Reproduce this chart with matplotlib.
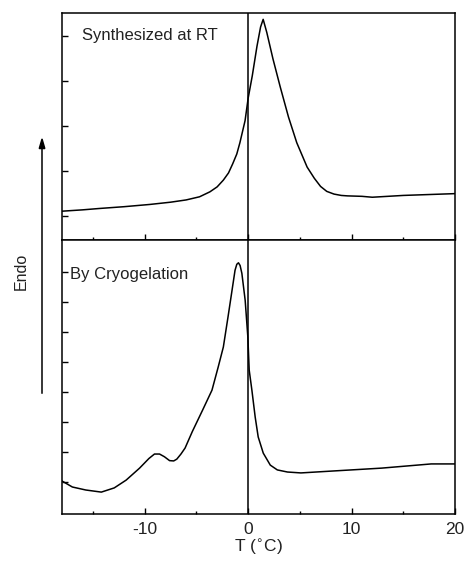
import matplotlib.pyplot as plt
from matplotlib.ticker import MultipleLocator

plt.rcParams['font.family'] = ['Liberation Sans', 'DejaVu Sans']
plt.rcParams['axes.unicode_minus'] = False

# top panel: sample synthesized at room temperature
t_rt = [-18.0, -16.0, -14.4, -12.0, -9.5, -7.5, -6.0, -4.7, -3.7, -3.0, -2.4,
        -1.9, -1.5, -1.1, -0.8, -0.3, 0.0, 0.4, 0.85, 1.2, 1.45, 1.8, 2.4,
        3.1, 3.9, 4.7, 5.7, 6.4, 7.0, 7.6, 8.3, 9.0, 9.6, 11.0, 12.0, 13.5,
        15.0, 17.5, 20.0]
dsc_rt = [0.11, 0.14, 0.17, 0.21, 0.26, 0.31, 0.36, 0.43, 0.54, 0.65, 0.80,
          0.96, 1.16, 1.38, 1.63, 2.12, 2.62, 3.12, 3.77, 4.20, 4.37, 4.08, 3.49,
          2.87, 2.20, 1.63, 1.09, 0.84, 0.66, 0.55, 0.49, 0.46, 0.45, 0.44, 0.42, 0.44,
          0.46, 0.48, 0.50]

# bottom panel: sample made by cryogelation
t_cryo = [-18.0, -17.0, -15.7, -14.2, -12.95, -11.8, -10.5, -9.6, -9.06, -8.57,
          -8.1, -7.6, -7.2, -6.9, -6.5, -6.1, -5.4, -4.4, -3.5, -2.9, -2.4,
          -1.95, -1.6, -1.27, -1.1, -0.94, -0.78, -0.61, -0.29, -0.03, 0.1,
          0.36, 0.68, 0.97, 1.46, 2.14, 2.82, 3.8, 5.1, 8.0, 12.9, 17.7, 20.0]
dsc_cryo = [0.03, -0.17, -0.27, -0.34, -0.20, 0.06, 0.46, 0.78, 0.93, 0.93,
            0.84, 0.71, 0.70, 0.76, 0.93, 1.13, 1.68, 2.40, 3.06, 3.83, 4.50,
            5.50, 6.30, 7.06, 7.26, 7.31, 7.22, 6.96, 6.06, 4.83, 3.73,
            3.06, 2.16, 1.50, 0.96, 0.56, 0.40, 0.33, 0.30, 0.36, 0.46, 0.60, 0.60]

fig = plt.figure(figsize=(4.67, 5.67), dpi=100)
gs = fig.add_gridspec(2, 1, height_ratios=[227, 274], hspace=0,
                      left=0.1328, right=0.9743, top=0.977, bottom=0.0935)
ax1 = fig.add_subplot(gs[0])
ax2 = fig.add_subplot(gs[1], sharex=ax1)

ax1.plot(t_rt, dsc_rt, color='black', lw=1.1)
ax2.plot(t_cryo, dsc_cryo, color='black', lw=1.1)

ax1.set_ylim(-0.53, 4.51)
ax2.set_ylim(-1.07, 8.07)
ax1.set_yticks(range(0, 5))
ax2.set_yticks(range(0, 8))

for ax in (ax1, ax2):
    ax.axvline(0, color='black', lw=1.1)
    ax.set_xlim(-18, 20)
    ax.xaxis.set_major_locator(MultipleLocator(10))
    ax.xaxis.set_minor_locator(MultipleLocator(5))
    ax.tick_params(axis='both', which='both', direction='in', top=False, right=False)
    ax.tick_params(axis='y', length=4, width=1, labelleft=False)
    ax.tick_params(axis='x', which='major', length=4, width=1)
    ax.tick_params(axis='x', which='minor', length=2.5, width=1)
    for s in ax.spines.values():
        s.set_linewidth(1.1)

ax1.tick_params(axis='x', labelbottom=False)
ax2.tick_params(axis='x', labelsize=12.5, pad=6, labelcolor='#222222')
ax2.set_xlabel('T ($^{\\circ}$C)', fontsize=12.5, labelpad=0, color='#222222')

ax1.text(0.052, 0.90, 'Synthesized at RT', transform=ax1.transAxes,
         fontsize=12, va='center', ha='left', color='#222222')
ax2.text(0.02, 0.875, 'By Cryogelation', transform=ax2.transAxes,
         fontsize=12, va='center', ha='left', color='#222222')

fig.text(0.045, 0.522, 'Endo', rotation=90, fontsize=11.5, va='center', ha='center',
         color='#222222')
fig.add_artist(plt.Line2D([0.09, 0.09], [0.307, 0.74], color='black', lw=1.1,
                          transform=fig.transFigure))
fig.patches.append(plt.Polygon([[0.084, 0.738], [0.096, 0.738], [0.09, 0.755]],
                               closed=True, color='black', transform=fig.transFigure,
                               figure=fig))

fig.savefig('out.png', dpi=100)
